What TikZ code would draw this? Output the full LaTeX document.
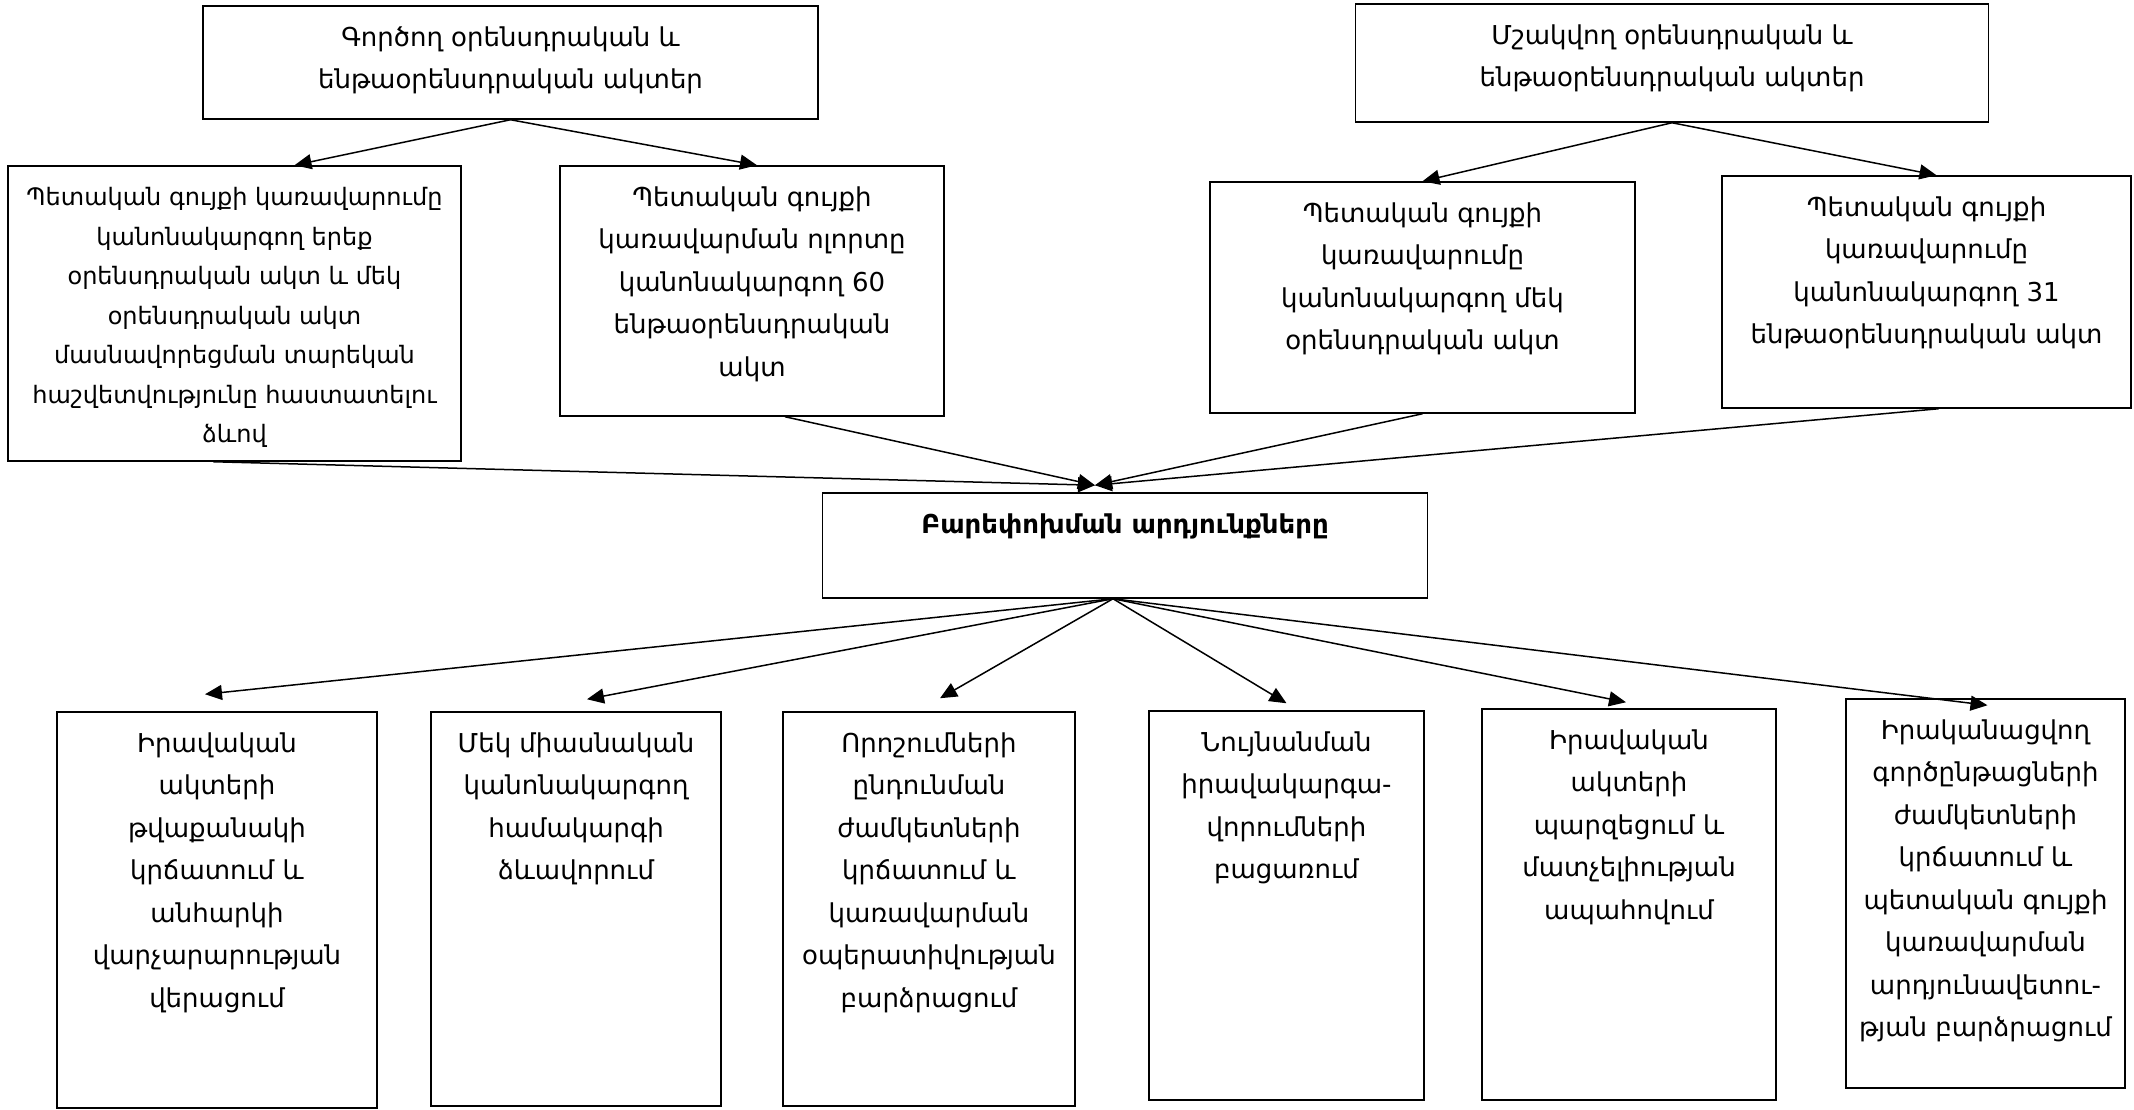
\documentclass[tikz,border=0pt]{standalone}
\usepackage{fontspec}
\setmainfont{DejaVu Sans}
\usetikzlibrary{positioning,arrows.meta}

\begin{document}
\begin{tikzpicture}
  [x=1pt, y=-1pt,
   box/.style = {draw, line width=1.5pt, inner sep=0pt},
   txt/.style = {align=center, inner sep=0pt, font=\fontsize{26}{42.5}\selectfont},
   link/.style = {line width=1.5pt, -{Triangle[length=17pt,width=15pt]}}]

\useasboundingbox (0,0) rectangle (2134,1110);

% Acts in force
\node[box, minimum width=615pt, minimum height=113pt] (cur) at (510.5,62.5) {};
\node[txt, below=21pt of cur.north] (curtxt)
  {Գործող օրենսդրական և\\ենթաօրենսդրական ակտեր};

\node[box, minimum width=453pt, minimum height=295pt] (l1) at (234.5,313.5) {};
\node[txt, below=22pt of l1.north, font=\fontsize{24}{39.5}\selectfont] (l1txt)
  {Պետական գույքի կառավարումը\\կանոնակարգող երեք\\օրենսդրական ակտ և մեկ\\օրենսդրական ակտ\\մասնավորեցման տարեկան\\հաշվետվությունը հաստատելու\\ձևով};

\node[box, minimum width=384pt, minimum height=250pt] (l2) at (752,291) {};
\node[txt, below=21pt of l2.north] (l2txt)
  {Պետական գույքի\\կառավարման ոլորտը\\կանոնակարգող 60\\ենթաօրենսդրական\\ակտ};

% Acts being drafted
\node[box, minimum width=633pt, minimum height=118pt] (dev) at (1672,63) {};
\node[txt, below=21pt of dev.north] (devtxt)
  {Մշակվող օրենսդրական և\\ենթաօրենսդրական ակտեր};

\node[box, minimum width=425pt, minimum height=231pt] (r1) at (1422.5,297.5) {};
\node[txt, below=21pt of r1.north] (r1txt)
  {Պետական գույքի\\կառավարումը\\կանոնակարգող մեկ\\օրենսդրական ակտ};

\node[box, minimum width=409pt, minimum height=232pt] (r2) at (1926.5,292) {};
\node[txt, below=21pt of r2.north] (r2txt)
  {Պետական գույքի\\կառավարումը\\կանոնակարգող 31\\ենթաօրենսդրական ակտ};

% Results
\node[box, minimum width=605pt, minimum height=105pt] (res) at (1125,545.5) {};
\node[txt, below=21pt of res.north, font=\fontsize{26}{42.5}\selectfont\bfseries] (restxt)
  {Բարեփոխման արդյունքները};

\node[box, minimum width=320pt, minimum height=396pt] (b1) at (217,910) {};
\node[txt, below=21pt of b1.north] (b1txt)
  {Իրավական\\ակտերի\\թվաքանակի\\կրճատում և\\անհարկի\\վարչարարության\\վերացում};

\node[box, minimum width=290pt, minimum height=394pt] (b2) at (576,909) {};
\node[txt, below=21pt of b2.north] (b2txt)
  {Մեկ միասնական\\կանոնակարգող\\համակարգի\\ձևավորում};

\node[box, minimum width=292pt, minimum height=394pt] (b3) at (929,909) {};
\node[txt, below=21pt of b3.north] (b3txt)
  {Որոշումների\\ընդունման\\ժամկետների\\կրճատում և\\կառավարման\\օպերատիվության\\բարձրացում};

\node[box, minimum width=275pt, minimum height=389pt] (b4) at (1286.5,905.5) {};
\node[txt, below=21pt of b4.north] (b4txt)
  {Նույնանման\\իրավակարգա-\\վորումների\\բացառում};

\node[box, minimum width=294pt, minimum height=391pt] (b5) at (1629,904.5) {};
\node[txt, below=21pt of b5.north] (b5txt)
  {Իրավական\\ակտերի\\պարզեցում և\\մատչելիության\\ապահովում};

\node[box, minimum width=279pt, minimum height=389pt] (b6) at (1985.5,893.5) {};
\node[txt, below=21pt of b6.north] (b6txt)
  {Իրականացվող\\գործընթացների\\ժամկետների\\կրճատում և\\պետական գույքի\\կառավարման\\արդյունավետու-\\թյան բարձրացում};

% Top forks
\draw[link] (cur.south) -- ([xshift=60pt]l1.north);
\draw[link] (cur.south) -- ([xshift=5pt]l2.north);
\draw[link] (dev.south) -- (r1.north);
\draw[link] (dev.south) -- ([xshift=10pt]r2.north);

% Into results
\coordinate (resin) at ([xshift=-30pt, yshift=7pt]res.north);
\draw[link] ([xshift=-21pt]l1.south) -- (resin);
\draw[link] ([xshift=33pt]l2.south) -- (resin);
\draw[link] (r1.south) -- (resin);
\draw[link] ([xshift=12pt]r2.south) -- (resin);

% Out of results
\coordinate (resout) at ([xshift=-12pt]res.south);
\draw[link] (resout) -- ([xshift=-12pt, yshift=17pt]b1.north);
\draw[link] (resout) -- ([xshift=11pt, yshift=12pt]b2.north);
\draw[link] (resout) -- ([xshift=11pt, yshift=13pt]b3.north);
\draw[link] (resout) -- ([yshift=7pt]b4.north);
\draw[link] (resout) -- ([xshift=-3pt, yshift=6pt]b5.north);
\draw[link] (resout) -- ([xshift=2pt, yshift=-7pt]b6.north);

\end{tikzpicture}
\end{document}
